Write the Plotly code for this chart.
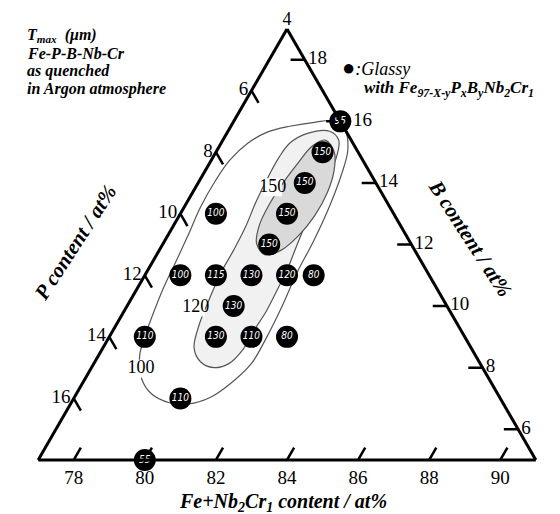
import plotly.graph_objects as go

# ---- data: sample compositions (at%) and Tmax values (um) ----
P_pts = [4, 5, 6, 7, 8, 9, 11, 10, 9, 8, 7.25, 10, 13, 11, 10, 9, 13, 15]
B_pts = [16, 15, 14, 13, 12, 13, 11, 11, 11, 11, 11, 10, 9, 9, 9, 9, 7, 5]
T_vals = [95, 150, 150, 150, 150, 100, 100, 115, 130, 120, 80, 130, 110, 130, 110, 80, 110, 55]

# ---- contour lines, P and B in at% ----
c100_P = [4.17, 4.74, 5.50, 6.23, 6.96, 7.74, 8.47, 9.33, 10.08, 10.87, 11.61, 12.31, 12.97, 13.45,
          13.77, 13.74, 13.38, 12.85, 12.17, 11.37, 10.44, 9.69, 8.68, 7.70, 6.68, 5.66, 4.85, 4.26, 4.01, 4.17]
c100_B = [16.01, 15.97, 15.84, 15.65, 15.29, 14.74, 14.08, 13.21, 12.36, 11.48, 10.67, 9.85, 9.04, 8.39,
          7.64, 7.15, 6.86, 6.82, 7.02, 7.47, 8.13, 8.87, 9.95, 11.06, 12.13, 13.27, 14.25, 15.06, 15.71, 16.01]

c120_P = [4.46, 5.12, 5.78, 6.31, 6.88, 7.64, 8.40, 9.10, 9.81, 10.56, 11.30, 11.79, 11.84, 11.56,
          11.07, 10.42, 9.83, 9.15, 8.47, 7.87, 7.24, 6.40, 5.51, 4.72, 4.35, 4.46]
c120_B = [15.68, 15.61, 15.29, 14.83, 14.25, 13.43, 12.55, 11.81, 11.09, 10.24, 9.36, 8.65, 8.19, 8.00,
          8.13, 8.61, 9.20, 9.85, 10.57, 11.22, 11.97, 12.94, 13.92, 14.80, 15.39, 15.68]

c150_P = [4.73, 4.67, 4.97, 5.52, 6.25, 7.03, 7.77, 8.29, 8.34, 7.97, 7.31, 6.59, 5.84, 5.20, 4.73]
c150_B = [15.39, 15.00, 14.41, 13.69, 12.94, 12.29, 11.81, 11.67, 12.03, 12.62, 13.34, 14.02, 14.67, 15.19, 15.39]

# contour labels
lab_text = ["150", "120", "100"]
lab_P = [6.97, 11.09, 13.63]
lab_B = [13.86, 9.95, 7.96]

# ---- axis tick labels ----
P_ticks = [6, 8, 10, 12, 14, 16]             # left edge
B_ticks = [18, 16, 14, 12, 10, 8, 6]         # right edge
F_ticks = [78, 80, 82, 84, 86, 88, 90]       # bottom edge
TOP_LABEL = "4"                              # P at the top corner
B_LABEL_PAD = {16: "\u00a0\u00a0"}           # keep "16" clear of the 95 point

P_MIN, B_MIN, F_MIN = 4, 5, 77   # window corners
TICK = 0.4                       # tick length in at%


def F_of(P, B):
    return [100 - p - b for p, b in zip(P, B)]


fig = go.Figure()

# outer 100 contour (no fill)
fig.add_trace(go.Scatterternary(
    a=c100_B, b=c100_P, c=F_of(c100_P, c100_B), mode="lines",
    line=dict(color="#555555", width=1.2, shape="spline"), hoverinfo="skip", showlegend=False))
# 120 contour (light fill)
fig.add_trace(go.Scatterternary(
    a=c120_B, b=c120_P, c=F_of(c120_P, c120_B), mode="lines", fill="toself",
    fillcolor="#f1f1f1", line=dict(color="#555555", width=1.2, shape="spline"),
    hoverinfo="skip", showlegend=False))
# 150 contour (darker fill)
fig.add_trace(go.Scatterternary(
    a=c150_B, b=c150_P, c=F_of(c150_P, c150_B), mode="lines", fill="toself",
    fillcolor="#d9d9d9", line=dict(color="#555555", width=1.2, shape="spline"),
    hoverinfo="skip", showlegend=False))

# contour labels with white backing
fig.add_trace(go.Scatterternary(
    a=lab_B, b=lab_P, c=F_of(lab_P, lab_B), mode="markers+text", text=lab_text,
    textposition="middle center",
    marker=dict(symbol="square", size=18, color="white"),
    textfont=dict(family="Liberation Serif", size=18, color="black"),
    hoverinfo="skip", showlegend=False))

# inward tick marks along the constant-composition directions
ta, tb, tc = [], [], []
for p in P_ticks:       # left edge (F = F_MIN), tick along constant P
    b0 = 100 - F_MIN - p
    ta += [b0, b0 - TICK, None]; tb += [p, p, None]; tc += [F_MIN, F_MIN + TICK, None]
for bb in B_ticks:      # right edge (P = P_MIN), tick along constant B
    ta += [bb, bb, None]; tb += [P_MIN, P_MIN + TICK, None]
    tc += [100 - P_MIN - bb, 100 - P_MIN - TICK - bb, None]
for f in F_ticks:       # bottom edge (B = B_MIN), tick along constant F
    ta += [B_MIN, B_MIN + TICK, None]; tb += [100 - B_MIN - f, 100 - B_MIN - TICK - f, None]
    tc += [f, f, None]
fig.add_trace(go.Scatterternary(a=ta, b=tb, c=tc, mode="lines", connectgaps=False,
                                line=dict(color="black", width=2.5), hoverinfo="skip", showlegend=False))

# label at the top corner
fig.add_trace(go.Scatterternary(
    a=[100 - F_MIN - P_MIN], b=[P_MIN], c=[F_MIN], mode="text", text=[TOP_LABEL],
    textposition="top center", textfont=dict(family="Liberation Serif", size=18, color="black"),
    cliponaxis=False, hoverinfo="skip", showlegend=False))

# sample points
fig.add_trace(go.Scatterternary(
    a=B_pts, b=P_pts, c=F_of(P_pts, B_pts), mode="markers+text",
    text=[f"<i>{v}</i>" for v in T_vals], textposition="middle center",
    marker=dict(size=22, color="black"), cliponaxis=False,
    textfont=dict(family="DejaVu Sans Condensed, DejaVu Sans", size=10, color="white"),
    hoverinfo="skip", showlegend=False))

tickfont = dict(family="Liberation Serif", size=19, color="black")
axis_common = dict(showgrid=False, showline=True, linecolor="black", linewidth=3,
                   ticks="", tickfont=tickfont, tickmode="array", title=dict(text=""))

# page has an 8px body margin: figure is 552x506 drawn at (8, 8)
W, H, OFF = 552, 506, 8


def px(X):
    return (X - OFF) / W


def py(Y):
    return 1 - (Y - OFF) / H


fig.update_layout(
    width=W, height=H,
    margin=dict(l=0, r=0, t=0, b=0),
    paper_bgcolor="white",
    ternary=dict(
        sum=100,
        domain=dict(x=[0.0109, 1.0], y=[py(460), py(29)]),
        bgcolor="white",
        aaxis=dict(min=B_MIN, tickvals=[100 - F_MIN - p for p in P_ticks],
                   ticktext=[str(p) for p in P_ticks], **axis_common),
        baxis=dict(min=P_MIN, tickvals=[100 - B_MIN - f for f in F_ticks],
                   ticktext=[str(f) for f in F_ticks], **axis_common),
        caxis=dict(min=F_MIN, tickvals=[100 - P_MIN - b for b in B_ticks],
                   ticktext=[B_LABEL_PAD.get(b, "") + str(b) for b in B_ticks], **axis_common),
    ),
    showlegend=False,
)

info_lines = ["T<sub>max</sub>  (μm)", "Fe-P-B-Nb-Cr", "as quenched", "in Argon atmosphere"]
info_y = [35, 53, 71, 89]
for t, yy in zip(info_lines, info_y):
    fig.add_annotation(xref="paper", yref="paper", x=px(25), y=py(yy), xanchor="left", yanchor="middle",
                       showarrow=False, font=dict(family="Liberation Serif", size=16, color="black"),
                       text=f"<b><i>{t}</i></b>")
fig.add_annotation(xref="paper", yref="paper", x=px(340), y=py(67), xanchor="left", yanchor="middle",
                   showarrow=False, font=dict(family="Liberation Serif", size=18, color="black"),
                   text="<span style='font-size:22px'>●</span><i>:Glassy</i>")
fig.add_annotation(xref="paper", yref="paper", x=px(362), y=py(89), xanchor="left", yanchor="middle",
                   showarrow=False, font=dict(family="Liberation Serif", size=17, color="black"),
                   text="<b><i>with Fe<sub>97-X-y</sub>P<sub>x</sub>B<sub>y</sub>Nb<sub>2</sub>Cr<sub>1</sub></i></b>")
fig.add_annotation(xref="paper", yref="paper", x=px(75), y=py(243), xanchor="center", yanchor="middle",
                   showarrow=False, textangle=-57,
                   font=dict(family="Liberation Serif", size=21, color="black"),
                   text="<b><i>P content / at%</i></b>")
fig.add_annotation(xref="paper", yref="paper", x=px(470), y=py(238), xanchor="center", yanchor="middle",
                   showarrow=False, textangle=57,
                   font=dict(family="Liberation Serif", size=21, color="black"),
                   text="<b><i>B content / at%</i></b>")
fig.add_annotation(xref="paper", yref="paper", x=px(283), y=py(502), xanchor="center", yanchor="middle",
                   showarrow=False,
                   font=dict(family="Liberation Serif", size=20, color="black"),
                   text="<b><i>Fe+Nb<sub>2</sub>Cr<sub>1</sub> content / at%</i></b>")

fig.write_html("out.html")
